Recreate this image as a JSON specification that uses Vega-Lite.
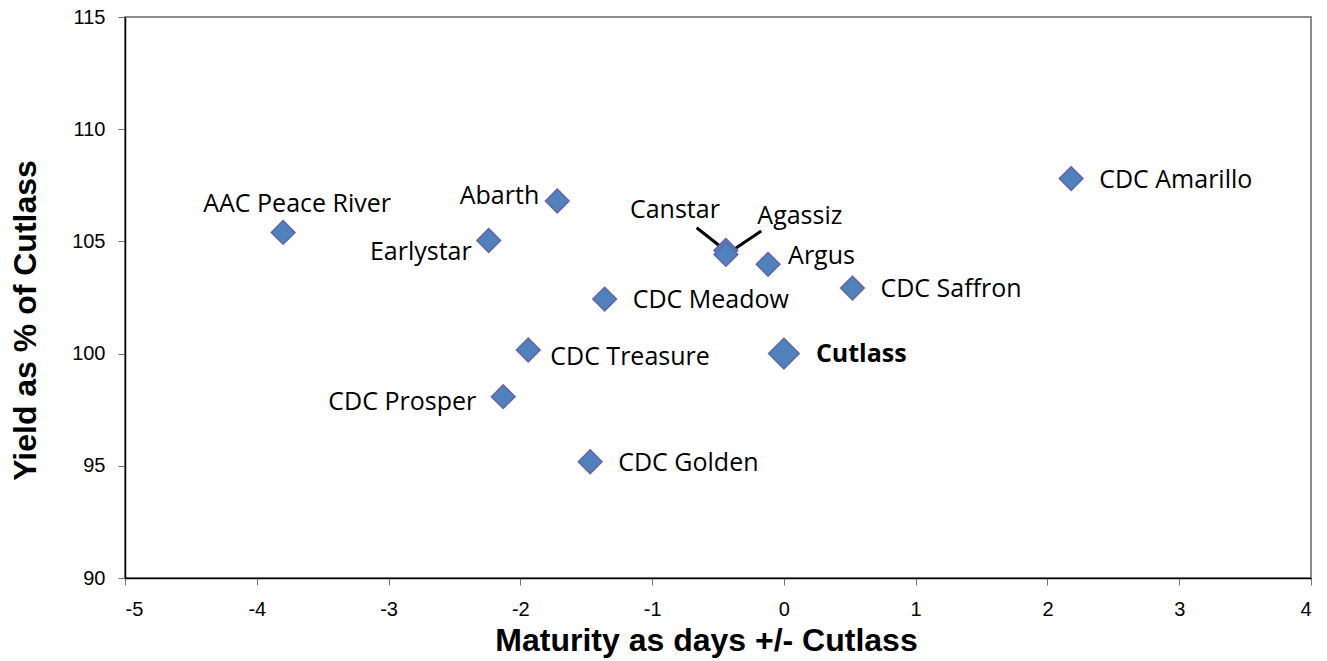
{
  "$schema": "https://vega.github.io/schema/vega-lite/v6.json",
  "width": 1186,
  "height": 561,
  "autosize": "none",
  "padding": {"left": 125, "top": 17, "right": 16, "bottom": 83},
  "background": "white",
  "config": {
    "view": {"stroke": "#8c8c8c", "strokeWidth": 2},
    "axis": {"grid": false}
  },
  "datasets": {
    "pts": [
      {"name": "AAC Peace River", "days": -3.8, "yield": 105.4},
      {"name": "Abarth", "days": -1.72, "yield": 106.8},
      {"name": "Earlystar", "days": -2.24, "yield": 105.04},
      {"name": "Canstar", "days": -0.44, "yield": 104.6},
      {"name": "Agassiz", "days": -0.44, "yield": 104.42},
      {"name": "Argus", "days": -0.12, "yield": 103.98},
      {"name": "CDC Amarillo", "days": 2.18, "yield": 107.8},
      {"name": "CDC Saffron", "days": 0.52, "yield": 102.92},
      {"name": "CDC Meadow", "days": -1.36, "yield": 102.43},
      {"name": "CDC Treasure", "days": -1.94, "yield": 100.16},
      {"name": "Cutlass", "days": 0, "yield": 100},
      {"name": "CDC Prosper", "days": -2.13, "yield": 98.08},
      {"name": "CDC Golden", "days": -1.47, "yield": 95.18}
    ],
    "callouts": [
      {"name": "Canstar", "x1": -0.662, "y1": 105.61, "x2": -0.455, "y2": 104.65},
      {"name": "Agassiz", "x1": -0.172, "y1": 105.46, "x2": -0.397, "y2": 104.57}
    ]
  },
  "data": {"name": "pts"},
  "encoding": {
    "x": {
      "field": "days", "type": "quantitative",
      "scale": {"domain": [-5, 4], "nice": false, "zero": false},
      "axis": {
        "title": "Maturity as days +/- Cutlass",
        "values": [-5, -4, -3, -2, -1, 0, 1, 2, 3, 4],
        "labelExpr": "'' + datum.value",
        "domainColor": "black", "domainWidth": 1.5,
        "tickColor": "#777", "tickSize": 7, "tickWidth": 1,
        "labelFont": "Liberation Sans", "labelFontSize": 20, "labelColor": "black",
        "labelPadding": 14,
        "titleFont": "Liberation Sans", "titleFontSize": 32, "titleFontWeight": "bold",
        "titleColor": "black", "titleX": 581, "titleY": 72, "titleBaseline": "alphabetic"
      }
    },
    "y": {
      "field": "yield", "type": "quantitative",
      "scale": {"domain": [90, 115], "nice": false, "zero": false},
      "axis": {
        "title": "Yield as % of Cutlass",
        "values": [90, 95, 100, 105, 110, 115],
        "labelExpr": "'' + datum.value",
        "domainColor": "black", "domainWidth": 1.5,
        "tickColor": "#777", "tickSize": 7, "tickWidth": 1,
        "labelFont": "Liberation Sans", "labelFontSize": 20, "labelColor": "black",
        "labelPadding": 13,
        "titleFont": "Liberation Sans", "titleFontSize": 32, "titleFontWeight": "bold",
        "titleColor": "black", "titleX": -90, "titleY": 303, "titleBaseline": "alphabetic"
      }
    }
  },
  "layer": [
    {
      "data": {"name": "callouts"},
      "mark": {"type": "rule", "color": "black", "strokeWidth": 3},
      "encoding": {
        "x": {"field": "x1", "type": "quantitative"},
        "y": {"field": "y1", "type": "quantitative"},
        "x2": {"field": "x2"},
        "y2": {"field": "y2"}
      }
    },
    {
      "transform": [{"filter": "datum.name !== 'Cutlass'"}],
      "mark": {"type": "point", "shape": "diamond", "filled": true, "size": 560, "fill": "#4F81BD", "stroke": "#6464A6", "strokeWidth": 1.5, "opacity": 1}
    },
    {
      "transform": [{"filter": "datum.name === 'Cutlass'"}],
      "mark": {"type": "point", "shape": "diamond", "filled": true, "size": 940, "fill": "#4F81BD", "stroke": "#6464A6", "strokeWidth": 1.5, "opacity": 1}
    },
    {
      "transform": [{"filter": "indexof(['CDC Amarillo','CDC Saffron','CDC Meadow','CDC Golden'], datum.name) >= 0"}],
      "mark": {"type": "text", "align": "left", "baseline": "middle", "dx": 28, "dy": 1, "font": "Open Sans", "fontSize": 25, "color": "black"},
      "encoding": {"text": {"field": "name"}}
    },
    {
      "transform": [{"filter": "datum.name === 'CDC Treasure'"}],
      "mark": {"type": "text", "align": "left", "baseline": "middle", "dx": 22, "dy": 7, "font": "Open Sans", "fontSize": 25, "color": "black"},
      "encoding": {"text": {"field": "name"}}
    },
    {
      "transform": [{"filter": "datum.name === 'Argus'"}],
      "mark": {"type": "text", "align": "left", "baseline": "middle", "dx": 20, "dy": -8, "font": "Open Sans", "fontSize": 25, "color": "black"},
      "encoding": {"text": {"field": "name"}}
    },
    {
      "transform": [{"filter": "datum.name === 'Cutlass'"}],
      "mark": {"type": "text", "align": "left", "baseline": "middle", "dx": 32, "dy": 0, "font": "Open Sans", "fontSize": 25, "fontWeight": "bold", "color": "black"},
      "encoding": {"text": {"field": "name"}}
    },
    {
      "transform": [{"filter": "datum.name === 'Abarth'"}],
      "mark": {"type": "text", "align": "right", "baseline": "middle", "dx": -18, "dy": -5, "font": "Open Sans", "fontSize": 25, "color": "black"},
      "encoding": {"text": {"field": "name"}}
    },
    {
      "transform": [{"filter": "datum.name === 'Earlystar'"}],
      "mark": {"type": "text", "align": "right", "baseline": "middle", "dx": -17, "dy": 11, "font": "Open Sans", "fontSize": 25, "color": "black"},
      "encoding": {"text": {"field": "name"}}
    },
    {
      "transform": [{"filter": "datum.name === 'CDC Prosper'"}],
      "mark": {"type": "text", "align": "right", "baseline": "middle", "dx": -27, "dy": 5, "font": "Open Sans", "fontSize": 25, "color": "black"},
      "encoding": {"text": {"field": "name"}}
    },
    {
      "transform": [{"filter": "datum.name === 'AAC Peace River'"}],
      "mark": {"type": "text", "align": "center", "baseline": "middle", "dx": 14, "dy": -28, "font": "Open Sans", "fontSize": 25, "color": "black"},
      "encoding": {"text": {"field": "name"}}
    },
    {
      "transform": [{"filter": "datum.name === 'Canstar'"}],
      "mark": {"type": "text", "align": "center", "baseline": "middle", "dx": -51, "dy": -40, "font": "Open Sans", "fontSize": 25, "color": "black"},
      "encoding": {"text": {"field": "name"}}
    },
    {
      "transform": [{"filter": "datum.name === 'Agassiz'"}],
      "mark": {"type": "text", "align": "center", "baseline": "middle", "dx": 74, "dy": -38, "font": "Open Sans", "fontSize": 25, "color": "black"},
      "encoding": {"text": {"field": "name"}}
    }
  ]
}
